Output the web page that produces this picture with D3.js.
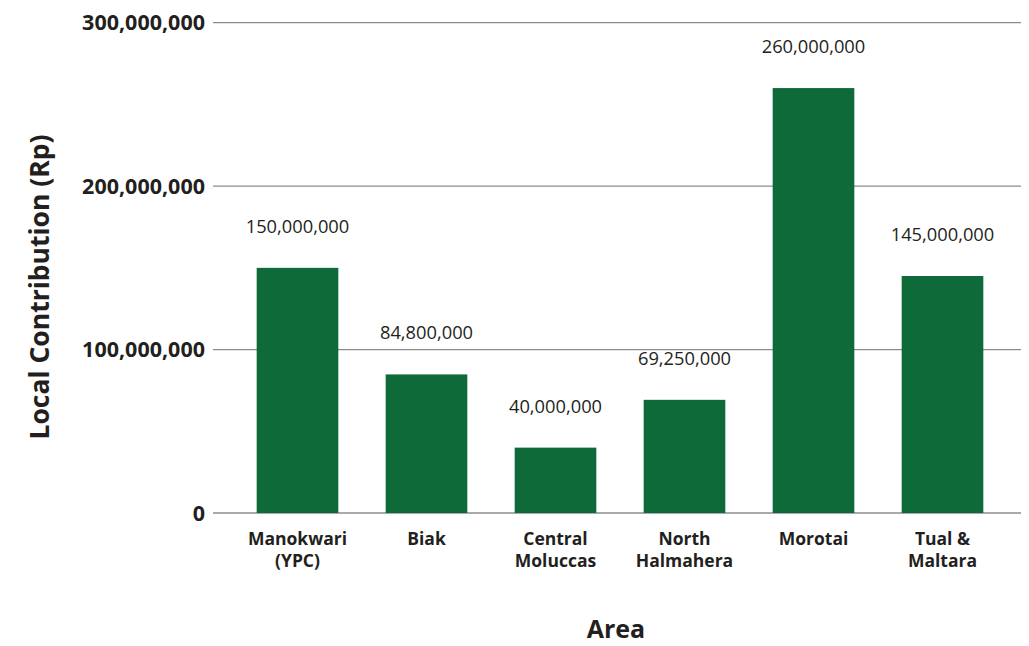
<!DOCTYPE html>
<html><head><meta charset="utf-8">
<script src="https://d3js.org/d3.v7.min.js"></script>
<style>body{margin:0;background:#fff}svg text{fill:#231f20;font-family:"Open Sans",sans-serif}</style>
</head><body>
<svg id="c" width="1029" height="646"></svg>
<script>
const categories = [["Manokwari","(YPC)"],["Biak"],["Central","Moluccas"],["North","Halmahera"],["Morotai"],["Tual &","Maltara"]];
const values = [150000000, 84800000, 40000000, 69250000, 260000000, 145000000];
const yTicks = [0, 100000000, 200000000, 300000000];

const svg = d3.select("#c");
const keys = categories.map(c => c.join(" "));
const x = d3.scaleBand().domain(keys).range([233, 1007]).paddingInner(0.367).paddingOuter(0.1835);
const y = d3.scaleLinear().domain([0, 300000000]).range([513, 22.7]);
const fmt = d3.format(",");

svg.append("g").selectAll("line").data(yTicks).join("line")
  .attr("x1", 213).attr("x2", 1021).attr("y1", d => y(d)).attr("y2", d => y(d))
  .attr("stroke", "#8c8c8c").attr("stroke-width", 1.3);

svg.append("g").selectAll("text").data(yTicks).join("text")
  .attr("x", 205).attr("y", d => y(d)).attr("dy", "0.35em").attr("text-anchor", "end")
  .attr("font-size", 21.5).attr("font-weight", "bold").text(d => fmt(d));

svg.append("g").selectAll("rect").data(values).join("rect")
  .attr("x", (d, i) => x(keys[i])).attr("width", x.bandwidth())
  .attr("y", d => y(d)).attr("height", d => y(0) - y(d)).attr("fill", "#0e6a39");

svg.append("g").selectAll("text").data(values).join("text")
  .attr("x", (d, i) => x(keys[i]) + x.bandwidth() / 2).attr("y", d => y(d) - 35)
  .attr("text-anchor", "middle").attr("font-size", 18.3).text(d => fmt(d));

const cg = svg.append("g").selectAll("text").data(categories).join("text")
  .attr("x", (d, i) => x(keys[i]) + x.bandwidth() / 2).attr("y", 545)
  .attr("text-anchor", "middle").attr("font-size", 17.5).attr("font-weight", "bold");
cg.selectAll("tspan").data(d => d).join("tspan")
  .attr("x", function(){ return this.parentNode.getAttribute("x"); })
  .attr("dy", (d, i) => i === 0 ? 0 : 22).text(d => d);

svg.append("text").attr("x", 616).attr("y", 638).attr("text-anchor", "middle")
  .attr("font-size", 25).attr("font-weight", "bold").text("Area");
svg.append("text").attr("transform", "translate(49,287) rotate(-90)").attr("text-anchor", "middle")
  .attr("font-size", 26.5).attr("font-weight", "bold").text("Local Contribution (Rp)");
</script>
</body></html>
